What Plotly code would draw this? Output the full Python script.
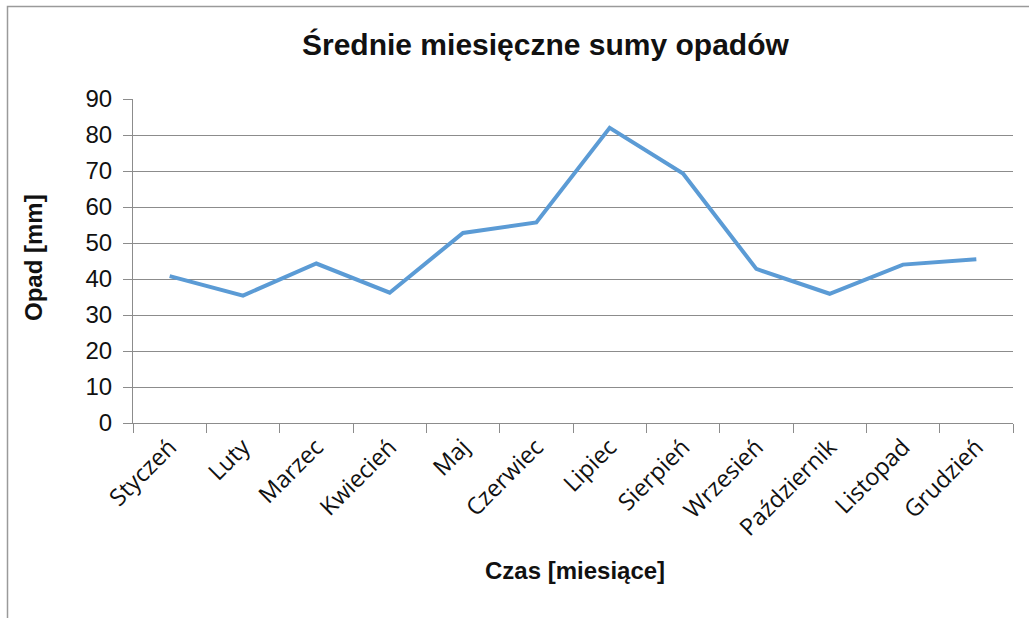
import plotly.graph_objects as go

months = ["Styczeń", "Luty", "Marzec", "Kwiecień", "Maj", "Czerwiec", "Lipiec",
          "Sierpień", "Wrzesień", "Październik", "Listopad", "Grudzień"]
opad = [40.8, 35.4, 44.3, 36.2, 52.8, 55.7, 82.0, 69.3, 42.8, 35.9, 44.0, 45.5]

title_text = "Średnie miesięczne sumy opadów"
x_title = "Czas [miesiące]"
y_title = "Opad [mm]"

W, H = 1029, 618
L, R, T, B = 133, 16, 99, 195
pw, ph = W - L - R, H - T - B

def px_x(p):
    return (p - L) / pw

def px_y(p):
    return (H - B - p) / ph

fig = go.Figure()
fig.add_trace(go.Scatter(
    x=months, y=opad, mode="lines",
    line=dict(color="#5B9BD5", width=4),
    showlegend=False, hoverinfo="x+y"))

grid = "#8C8C8C"
fig.update_layout(
    width=W, height=H,
    margin=dict(l=L, r=R, t=T, b=B),
    paper_bgcolor="white", plot_bgcolor="white",
    xaxis=dict(
        type="category", showgrid=False, showline=True, linecolor=grid, linewidth=1,
        ticks="outside", tickson="boundaries", ticklen=9, tickcolor=grid,
        tickangle=-45, tickfont=dict(family="Open Sans", size=23.5, color="#111"),
        zeroline=False, range=[-0.5, 11.5]),
    yaxis=dict(
        range=[0, 90], dtick=10, showgrid=True, gridcolor=grid, gridwidth=1,
        showline=True, linecolor=grid, linewidth=1, ticks="outside", ticklen=9,
        tickcolor=grid, ticklabelstandoff=6,
        tickfont=dict(family="Liberation Sans", size=24, color="#111"),
        zeroline=False),
    shapes=[dict(type="rect", xref="paper", yref="paper",
                 x0=px_x(7.5), x1=px_x(1040), y0=px_y(640), y1=px_y(6.5),
                 line=dict(color="#9A9A9A", width=1.5), fillcolor="rgba(0,0,0,0)",
                 layer="below")],
    annotations=[
        dict(text="<b>" + title_text + "</b>", xref="paper", yref="paper",
             x=px_x(545), y=px_y(45), showarrow=False,
             font=dict(family="Liberation Sans", size=30, color="#111"),
             xanchor="center", yanchor="middle"),
        dict(text="<b>" + x_title + "</b>", xref="paper", yref="paper",
             x=px_x(575), y=px_y(570), showarrow=False,
             font=dict(family="Liberation Sans", size=24, color="#111"),
             xanchor="center", yanchor="middle"),
        dict(text="<b>" + y_title + "</b>", xref="paper", yref="paper",
             x=px_x(33), y=px_y(258), showarrow=False, textangle=-90,
             font=dict(family="Liberation Sans", size=24, color="#111"),
             xanchor="center", yanchor="middle"),
    ],
)

fig.write_html("out.html", config={"displayModeBar": False},
               post_script="document.body.style.margin='0';document.body.style.overflow='hidden';")
